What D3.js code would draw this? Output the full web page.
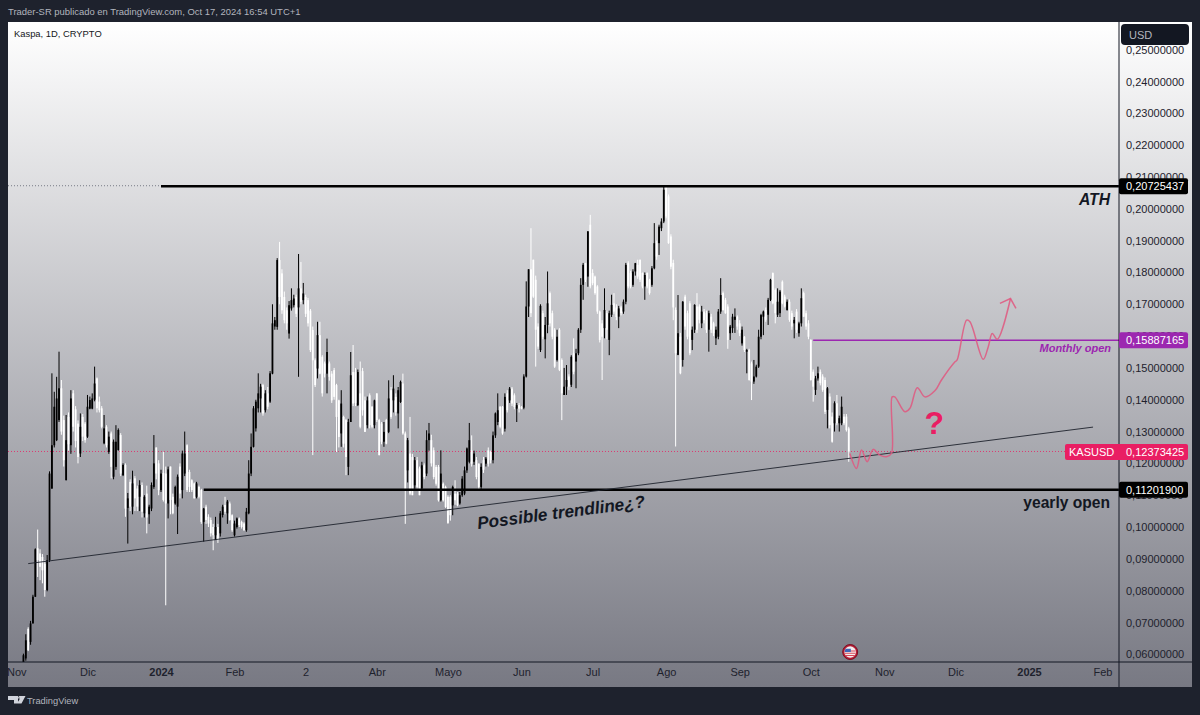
<!DOCTYPE html>
<html>
<head>
<meta charset="utf-8">
<script src="https://cdn.jsdelivr.net/npm/d3@7"></script>
<style>
html, body { margin: 0; padding: 0; background: #1e222d; overflow: hidden; }
svg { display: block; }
text { font-family: "Liberation Sans", Arial, sans-serif; }
</style>
</head>
<body>
<svg id="chart" width="1200" height="715"></svg>
<script>
// daily candles, [open, high, low, close], prices in US cents
const nov23 = [[5.73,6.02,5.7,5.97],[5.87,6.63,5.8,6.44],[6.8,6.85,6.1,6.13],[6.39,7.05,6.3,6.97],[6.97,7.87,6.97,7.81],[7.81,9.33,7.8,9.3],[9.33,9.92,8.43,8.96],[9.17,9.3,8.33,8.75],[9.06,9.15,8.23,8.64],[8.85,8.95,7.81,8.02],
  [8.02,9.12,7.98,8.96],[8.96,11.75,8.9,11.68],[11.21,14.83,11.2,12.57],[12.57,14.25,12.5,13.78],[12.73,14.72,12.7,14.04],[13.36,15.51,13.3,14.36],[14.36,14.62,12.9,13.0],[13.36,13.5,11.9,12.1],[11.47,13.52,11.47,12.73],[13.46,13.6,12.4,12.6],
  [12.57,14.3,12.3,14.04],[14.2,14.3,13.0,13.15],[13.7,13.8,12.5,12.7],[13.25,13.35,12.0,12.2],[12.31,13.57,12.2,13.15],[13.46,13.55,12.7,12.84],[13.25,13.3,12.65,12.73]];
const dec23 = [[12.84,14.15,12.8,13.78],[13.72,14.1,13.7,13.99],[13.72,14.2,13.7,14.04],[14.0,15.04,13.95,14.51],[14.67,14.7,13.6,13.73],[13.94,14.1,13.6,13.67],[13.73,13.8,13.1,13.15],[12.63,13.52,12.6,13.1],[13.15,13.2,12.5,12.57],[12.36,13.0,12.3,12.84],
  [12.94,13.0,11.53,11.89],[11.58,12.75,11.5,12.68],[11.89,13.2,11.8,12.68],[12.42,13.1,12.4,13.05],[12.89,12.95,11.6,11.68],[11.63,12.0,11.6,11.95],[11.95,12.0,10.32,10.58],[10.6,11.07,9.48,10.9],[11.42,11.5,10.5,10.64],[10.64,11.77,10.4,11.37],
  [11.53,11.6,10.5,10.9],[11.21,11.3,10.5,10.64],[10.95,11.47,10.5,11.32],[11.32,11.4,10.3,10.48],[10.43,11.0,10.3,10.95],[11.05,11.3,9.8,10.3],[10.4,10.7,10.1,10.64],[10.58,11.4,10.5,11.32],[11.26,12.89,11.2,12.0],[12.5,12.5,11.5,11.68],[12.0,12.1,11.0,11.16]];
const jan24 = [[11.16,11.8,11.1,11.68],[11.7,12.36,10.8,10.85],[11.68,11.9,7.54,10.74],[10.74,11.9,10.27,11.81],[11.9,11.9,10.4,10.85],[10.95,11.05,10.4,10.43],[10.74,11.3,10.7,11.26],[10.64,11.65,9.78,11.58],[11.9,12.0,10.9,11.05],[11.16,12.4,10.9,12.31],
  [11.68,13.0,11.6,12.31],[12.57,12.6,11.1,11.16],[11.73,11.8,11.1,11.26],[11.47,11.5,11.1,11.16],[11.37,11.4,10.9,10.9],[10.95,11.42,10.9,11.37],[11.26,11.3,10.9,10.95],[11.16,11.2,10.1,10.16],[10.16,10.6,9.54,10.58],[10.64,10.7,10.1,10.22],
  [10.32,10.4,10.0,10.11],[10.22,10.3,9.7,9.8],[10.0,10.1,9.27,9.74],[9.74,10.32,9.59,10.0],[10.0,10.1,9.5,9.59],[9.8,10.5,9.7,10.43],[10.38,10.7,10.3,10.64],[10.69,10.95,10.4,10.48],[10.43,10.85,10.1,10.8],[10.74,10.8,10.2,10.22],[10.37,10.4,9.85,9.9]];
const feb24 = [[9.74,10.2,9.7,10.11],[10.0,10.3,9.95,10.27],[10.27,10.3,10.0,10.06],[10.16,10.2,9.95,10.0],[10.11,10.15,9.88,9.9],[9.9,10.6,9.85,10.48],[10.43,12.1,10.4,11.68],[11.68,12.94,11.6,12.52],[12.52,13.8,12.5,13.73],[13.1,14.0,13.0,13.94],
  [13.73,14.83,13.6,14.2],[14.04,14.5,13.6,14.41],[14.46,14.5,13.5,13.57],[13.67,14.3,13.6,14.2],[14.2,14.4,13.7,13.78],[13.94,14.9,13.9,14.83],[14.82,17.0,14.8,16.4],[16.3,16.6,16.2,16.5],[16.29,18.45,16.2,18.39],[18.39,18.96,17.0,17.23],
  [17.97,18.1,16.7,16.81],[17.23,17.4,16.4,16.5],[16.81,16.9,16.2,16.4],[16.08,17.1,15.92,16.97],[16.87,17.5,16.8,17.13],[16.97,17.3,16.9,17.18],[17.23,17.3,16.6,16.7],[16.9,18.58,14.72,17.5],[17.5,18.33,17.0,17.08]];
const mar24 = [[17.13,17.67,17.0,17.34],[17.23,17.3,16.6,16.7],[17.13,17.2,16.3,16.4],[16.8,16.85,15.5,15.56],[16.19,16.3,12.26,15.24],[15.24,15.3,14.4,14.46],[14.98,16.45,14.67,16.03],[16.03,16.45,14.8,14.82],[15.35,15.4,14.1,14.2],[15.14,15.2,14.7,14.82],
  [14.82,15.92,14.2,15.5],[15.14,15.2,14.6,14.72],[14.82,14.9,13.9,13.98],[14.93,15.0,14.0,14.09],[14.46,14.5,12.36,13.46],[13.98,14.0,12.5,12.83],[12.94,14.3,12.52,13.88],[13.46,13.5,12.5,12.62],[13.36,13.4,11.63,12.2],[11.89,13.4,11.63,13.3],
  [13.3,15.5,13.3,14.77],[14.87,15.72,13.8,13.88],[14.87,15.0,13.8,13.9],[13.83,14.95,13.8,14.87],[14.2,15.2,13.1,13.15],[14.9,15.0,13.5,13.67],[13.98,14.1,12.99,12.99],[13.2,14.1,13.1,13.98],[14.14,14.2,13.1,13.2],[13.78,13.8,13.1,13.15],[13.2,14.0,13.1,13.98]];
const apr24 = [[14.2,14.2,13.3,13.36],[13.36,13.4,12.25,12.26],[13.25,13.3,12.6,12.68],[12.68,13.3,12.52,12.99],[13.36,13.4,12.6,12.62],[12.99,14.61,12.95,14.04],[14.3,14.4,13.4,13.46],[13.98,14.77,13.6,14.35],[14.09,14.2,13.5,13.62],[13.57,14.4,13.1,14.3],
  [13.93,14.6,13.9,14.56],[14.51,14.82,12.9,12.94],[12.94,13.0,10.1,11.15],[11.78,12.8,11.4,12.73],[12.31,13.46,11.0,11.05],[12.2,12.3,11.0,11.0],[11.31,12.2,11.2,12.1],[12.1,12.2,11.2,11.26],[11.84,11.9,11.0,11.0],[11.21,12.05,11.15,11.94],
  [11.94,12.0,11.5,11.57],[11.68,13.04,11.6,12.73],[12.73,13.27,12.4,12.94],[12.73,12.9,11.9,12.0],[12.41,12.5,11.5,11.57],[11.89,11.95,11.3,11.36],[11.89,11.95,10.8,10.84],[10.84,12.41,10.8,11.68],[11.36,11.4,10.8,10.84],[11.26,11.3,10.6,10.63]];
const may24 = [[10.95,11.0,10.1,10.13],[10.95,11.0,10.2,10.37],[10.68,11.3,10.37,11.26],[11.05,11.47,10.7,10.84],[11.05,11.1,10.65,10.68],[10.74,11.1,10.7,11.0],[11.0,11.6,10.95,11.52],[11.05,11.9,11.0,11.78],[11.78,12.5,11.7,12.47],[12.05,13.27,12.0,12.73],
  [12.41,12.88,11.9,11.99],[12.05,12.4,11.95,12.31],[12.1,12.2,11.5,11.57],[11.99,12.0,11.2,11.26],[11.26,12.0,11.2,11.89],[12.1,12.2,11.7,11.8],[11.99,12.2,11.9,12.15],[12.41,12.5,11.9,11.99],[12.36,12.4,12.0,12.1],[12.1,13.0,12.0,12.88],
  [12.88,13.6,12.8,13.57],[13.3,14.2,13.2,13.67],[13.78,13.8,13.1,13.15],[13.78,13.8,12.9,12.94],[13.09,14.2,13.0,14.09],[14.2,14.3,13.6,13.67],[13.98,14.4,13.9,14.35],[14.35,14.4,13.8,13.88],[14.14,14.2,13.7,13.77],[13.72,13.9,13.3,13.83],[13.83,13.9,13.6,13.72]];
const jun24 = [[13.78,13.8,13.7,13.72],[13.75,14.8,13.7,14.73],[14.73,17.72,14.7,16.93],[16.93,18.1,16.6,18.1],[18.1,19.39,16.6,16.72],[18.4,18.4,17.2,17.24],[17.77,17.9,15.04,16.2],[16.3,16.4,15.6,15.67],[15.56,17.0,15.5,16.95],[16.72,16.8,15.9,15.98],
  [15.9,16.6,15.3,16.35],[16.35,18.03,16.09,17.03],[17.35,17.4,16.3,16.4],[16.72,16.8,15.9,15.98],[16.2,16.25,15.0,15.04],[15.25,16.2,15.2,15.98],[16.2,16.25,14.9,14.94],[15.25,15.3,13.36,14.2],[14.15,15.0,14.15,14.41],[14.41,15.09,14.15,14.62],
  [14.73,14.8,14.3,14.41],[14.47,15.4,14.4,15.35],[15.46,15.93,14.8,14.88],[15.2,15.6,14.36,15.46],[15.46,16.25,15.4,16.2],[16.2,17.82,16.1,17.61],[17.61,18.3,17.14,18.24],[18.29,18.3,17.7,17.77],[17.87,19.3,17.55,19.29],[19.5,19.81,17.5,17.56]];
const jul24 = [[17.98,18.1,17.6,17.66],[17.87,17.9,17.3,17.35],[17.56,17.6,16.7,16.77],[16.77,16.8,15.8,15.88],[16.4,16.5,14.62,15.98],[16.25,17.5,15.93,16.82],[16.72,16.8,15.9,16.2],[15.88,16.8,15.4,16.72],[16.67,17.3,16.6,16.98],[17.03,17.35,16.7,16.77],
  [16.9,17.0,16.5,16.6],[16.61,16.95,16.25,16.87],[16.9,16.95,16.65,16.72],[16.77,17.15,16.7,17.08],[17.08,18.3,17.0,18.24],[18.29,18.35,17.5,17.56],[17.98,18.05,17.5,17.56],[17.61,18.1,17.55,18.03],[18.03,18.3,17.9,18.29],[18.24,18.4,17.8,17.87],
  [18.4,18.4,17.7,17.77],[17.98,18.0,17.5,17.56],[17.56,18.0,17.14,17.92],[17.98,18.0,17.5,17.56],[17.77,17.8,17.3,17.35],[17.61,18.2,17.55,18.13],[18.13,19.55,18.1,18.92],[18.92,19.0,18.4,18.5],[18.92,19.5,18.55,19.44],[19.39,19.7,19.3,19.6],[19.6,20.73,19.55,20.6]];
const aug24 = [[20.7,20.73,19.7,19.76],[20.39,20.45,18.9,18.92],[19.13,19.2,18.1,18.18],[18.3,18.4,16.5,16.9],[16.82,16.9,12.53,15.46],[15.41,17.29,15.4,16.09],[15.98,16.1,14.8,14.83],[15.25,17.1,15.04,17.08],[17.24,17.3,16.2,16.3],[16.72,16.8,15.9,15.98],
  [17.03,17.1,15.4,15.46],[15.88,16.3,15.56,16.2],[16.2,17.0,16.1,16.98],[16.93,17.35,16.1,16.2],[16.93,17.0,16.4,16.51],[16.4,16.95,16.25,16.77],[16.77,16.85,16.4,16.5],[16.72,16.8,16.1,16.2],[16.2,16.8,15.51,16.72],[16.61,16.7,16.1,16.2],
  [16.4,16.45,16.0,16.09],[15.93,16.3,15.72,16.2],[15.98,16.85,15.9,16.77],[16.77,17.82,16.7,17.29],[17.35,17.4,16.8,16.82],[17.14,17.2,16.7,16.72],[16.93,17.0,15.6,15.88],[16.09,16.35,15.88,16.3],[16.25,16.7,16.1,16.61],[16.51,16.87,16.1,16.61],[16.61,16.65,16.2,16.3]];
const sep24 = [[16.4,16.5,16.0,16.09],[15.77,16.3,15.7,16.2],[15.98,16.0,15.5,15.56],[15.51,15.6,14.83,15.56],[15.56,15.6,14.6,14.62],[15.14,15.2,13.99,14.57],[14.57,15.25,14.5,14.73],[14.73,15.1,14.7,15.04],[15.04,16.2,15.0,15.98],[15.98,16.7,15.9,16.66],
  [16.61,16.8,16.03,16.77],[16.82,16.9,16.45,16.51],[16.67,17.2,16.35,17.14],[17.14,17.8,17.1,17.77],[17.98,18.0,17.0,17.03],[17.45,17.5,16.4,16.72],[16.67,17.5,16.6,17.08],[16.72,17.45,16.6,17.4],[17.71,17.75,17.0,17.03],[17.24,17.3,16.9,16.93],
  [16.82,17.15,16.8,17.08],[17.08,17.15,16.45,16.51],[16.72,16.8,16.2,16.3],[16.4,16.6,15.93,16.51],[16.77,16.85,16.1,16.2],[16.09,16.45,15.98,16.4],[16.4,17.5,16.3,17.19],[17.35,17.4,16.6,16.61],[16.72,16.8,16.2,16.3],[16.4,16.5,15.9,15.98]];
const oct24 = [[15.88,15.9,14.6,14.62],[14.88,14.95,13.94,14.41],[14.31,14.75,14.15,14.67],[14.67,15.04,14.6,14.83],[14.88,14.95,14.45,14.52],[14.73,14.8,14.25,14.31],[14.62,14.7,13.55,13.62],[13.68,14.4,13.1,14.36],[14.1,14.2,13.1,13.2],[13.47,13.6,12.65,12.68],
  [13.26,13.95,13.0,13.89],[13.89,14.15,13.2,13.26],[13.26,13.5,13.0,13.42],[13.26,14.1,13.2,13.78],[13.47,13.55,13.2,13.26],[13.47,13.55,13.0,13.05],[13.1,13.15,12.05,12.37]];
const firstCandle = "2023-11-04";

const priceTicks = [0.06,0.07,0.08,0.09,0.10,0.11,0.12,0.13,0.14,0.15,0.16,0.17,0.18,0.19,0.20,0.21,0.22,0.23,0.24,0.25];
const timeTicks = ["2023-11-01","2023-12-01","2024-01-01","2024-02-01","2024-03-02","2024-04-01","2024-05-01","2024-06-01","2024-07-01","2024-08-01","2024-09-01","2024-10-01","2024-11-01","2024-12-01","2025-01-01","2025-02-01"];
const timeLabels = ["Nov","Dic","2024","Feb","2","Abr","Mayo","Jun","Jul","Ago","Sep","Oct","Nov","Dic","2025","Feb"];

const athPrice = 20.725437, monthlyOpen = 15.887165, yearlyOpen = 11.2019, lastPrice = 12.373425;
const athFrom = "2024-01-01", yearlyFrom = "2024-01-19", monthlyFrom = "2024-10-02";
const trendDates = ["2023-11-06", "2025-01-28"], trendPrices = [8.85, 13.14];

// pink scenario, days after the last candle and price in cents
const forecastDays = [0.46,3.27,5.38,7.77,10.3,13.1,15.9,18,18.3,19.4,23.7,25.8,28.9,32.1,36.3,39.1,44.8,45.7,49.7,51.1,56.7,58.8,60.5,62.6,68.2];
const forecastPrices = [12.31,11.84,12.42,12.05,12.44,12.26,12.21,12.31,14.09,14.09,13.62,13.73,14.38,14.09,14.28,14.62,15.19,15.25,16.5,16.45,15.27,15.66,16.08,15.9,17.18];
const arrowDays = [63.75,68.2,70.5], arrowPrices = [17.03,17.18,16.87];

const candles = [nov23, dec23, jan24, feb24, mar24, apr24, may24, jun24, jul24, aug24, sep24, oct24].flat();
const DAY = 864e5;
const parse = d3.utcParse("%Y-%m-%d");
const start = parse(firstCandle);
const dateOf = i => new Date(+start + i * DAY);
const lastDate = dateOf(candles.length - 1);

const plotLeft = 8, plotRight = 1119, plotTop = 22, plotBottom = 662, edge = 1192, foot = 687;
const x = d3.scaleUtc().domain([parse("2024-01-01"), parse("2025-01-01")]).range([161, 1029]);
const y = d3.scaleLinear().domain([6, 25]).range([654.3, 49.7]);

const svg = d3.select("#chart");
const defs = svg.append("defs");
const grad = defs.append("linearGradient").attr("id", "bg").attr("x1", 0).attr("y1", 0).attr("x2", 0).attr("y2", 1);
grad.append("stop").attr("offset", 0).attr("stop-color", "#ffffff");
grad.append("stop").attr("offset", 1).attr("stop-color", "#787983");
defs.append("clipPath").attr("id", "plot").append("rect")
  .attr("x", plotLeft).attr("y", plotTop).attr("width", plotRight - plotLeft).attr("height", plotBottom - plotTop);

svg.append("rect").attr("width", 1200).attr("height", 715).attr("fill", "#1e222d");
svg.append("rect").attr("x", plotLeft).attr("y", plotTop).attr("width", edge - plotLeft).attr("height", foot - plotTop).attr("fill", "url(#bg)");

svg.append("text").attr("x", 8).attr("y", 15).attr("font-size", 9.45).attr("fill", "#b2b5be")
  .text("Trader-SR publicado en TradingView.com, Oct 17, 2024 16:54 UTC+1");

const plot = svg.append("g").attr("clip-path", "url(#plot)");

// dotted price lines behind the candles
plot.append("line").attr("x1", plotLeft).attr("x2", plotRight).attr("y1", y(athPrice)).attr("y2", y(athPrice))
  .attr("stroke", "#787b86").attr("stroke-width", 1).attr("stroke-dasharray", "1 2");
plot.append("line").attr("x1", plotLeft).attr("x2", plotRight).attr("y1", y(lastPrice)).attr("y2", y(lastPrice))
  .attr("stroke", "#e91e63").attr("stroke-opacity", 0.8).attr("stroke-width", 1).attr("stroke-dasharray", "1 2");

// candles
const bars = plot.append("g").selectAll("g").data(candles).enter().append("g")
  .attr("transform", (d, i) => "translate(" + x(dateOf(i)) + ",0)");
bars.append("line").attr("y1", d => y(d[1])).attr("y2", d => y(d[2]))
  .attr("stroke", d => d[3] >= d[0] ? "#000" : "#fff").attr("stroke-width", 1);
bars.append("rect").attr("x", -0.9).attr("width", 1.8)
  .attr("y", d => y(Math.max(d[0], d[3])))
  .attr("height", d => Math.max(0.8, Math.abs(y(d[0]) - y(d[3]))))
  .attr("fill", d => d[3] >= d[0] ? "#000" : "#fff");

// horizontal levels
plot.append("line").attr("x1", x(parse(athFrom))).attr("x2", plotRight).attr("y1", y(athPrice) + 0.6).attr("y2", y(athPrice) + 0.6)
  .attr("stroke", "#000").attr("stroke-width", 2.4);
plot.append("line").attr("x1", x(parse(yearlyFrom))).attr("x2", plotRight).attr("y1", y(yearlyOpen) + 1).attr("y2", y(yearlyOpen) + 1)
  .attr("stroke", "#000").attr("stroke-width", 2.4);
plot.append("line").attr("x1", x(parse(monthlyFrom))).attr("x2", plotRight).attr("y1", y(monthlyOpen) + 0.6).attr("y2", y(monthlyOpen) + 0.6)
  .attr("stroke", "#9c27b0").attr("stroke-width", 1.4);

// trendline
plot.append("line")
  .attr("x1", x(parse(trendDates[0]))).attr("y1", y(trendPrices[0]))
  .attr("x2", x(parse(trendDates[1]))).attr("y2", y(trendPrices[1]))
  .attr("stroke", "#1e222d").attr("stroke-width", 0.9);

// forecast path
const afterLast = d => new Date(+lastDate + d * DAY);
const forecast = d3.line().x(d => x(afterLast(d[0]))).y(d => y(d[1])).curve(d3.curveCatmullRom.alpha(0.5));
plot.append("path").attr("d", forecast(d3.zip(forecastDays, forecastPrices)))
  .attr("fill", "none").attr("stroke", "#e0577f").attr("stroke-width", 1.5).attr("stroke-opacity", 0.85);
plot.append("path").attr("d", d3.line().x(d => x(afterLast(d[0]))).y(d => y(d[1]))(d3.zip(arrowDays, arrowPrices)))
  .attr("fill", "none").attr("stroke", "#e0577f").attr("stroke-width", 1.5).attr("stroke-opacity", 0.85);

// notes on the chart
const note = (px, py, str, size, opts) => plot.append("text").attr("x", px).attr("y", py).attr("text-anchor", "end")
  .attr("font-size", size).attr("font-weight", "bold").attr("font-style", opts.italic ? "italic" : "normal")
  .attr("fill", opts.fill).text(str);
note(1110, 205, "ATH", 15.7, { italic: true, fill: "#131722" });
note(1111, 352, "Monthly open", 11, { italic: true, fill: "#9c27b0" });
note(1110, 508, "yearly open", 15.6, { fill: "#131722" });
note(944, 434, "?", 32, { fill: "#e91e63" });
plot.append("text").attr("transform", "translate(478,529) rotate(-7.4)")
  .attr("font-size", 17.2).attr("font-weight", "bold").attr("font-style", "italic").attr("fill", "#131722")
  .text("Possible trendline¿?");

svg.append("text").attr("x", 14).attr("y", 36.5).attr("font-size", 9.4).attr("fill", "#131722").text("Kaspa, 1D, CRYPTO");

// event marker with the flag
const flag = svg.append("g").attr("transform", "translate(" + x(afterLast(0.6)) + ",652)");
flag.append("circle").attr("r", 7.5).attr("fill", "#b71c35").attr("stroke", "#7a0f22").attr("stroke-width", 1);
flag.append("circle").attr("r", 5.8).attr("fill", "#f3eded");
flag.append("path").attr("d", "M-5.3,-1.5H5.4V-0.6H-5.4ZM-5.4,0.8H5.4V1.7H-5.4ZM-4.6,3H4.6V3.9H-4.6Z").attr("fill", "#d9485a");
flag.append("path").attr("d", "M-4.7,-3.2H0.6V0H-5.6Z").attr("fill", "#3f64b5");

// axes
svg.append("line").attr("x1", plotRight).attr("x2", plotRight).attr("y1", plotTop).attr("y2", foot).attr("stroke", "#131722");
svg.append("line").attr("x1", plotLeft).attr("x2", edge).attr("y1", plotBottom).attr("y2", plotBottom).attr("stroke", "#131722");

const priceFmt = v => v.toFixed(8).replace(".", ",");
const yAxis = d3.axisRight(y).tickValues(priceTicks.map(v => v * 100)).tickSize(0).tickPadding(7)
  .tickFormat(v => priceFmt(v / 100));
const gy = svg.append("g").attr("transform", "translate(" + plotRight + ",0)").call(yAxis);
gy.select(".domain").remove();
gy.selectAll("text").attr("font-size", 11).attr("font-family", "Liberation Sans").attr("fill", "#1e222d");

const xAxis = d3.axisBottom(x).tickValues(timeTicks.map(parse)).tickSize(0).tickPadding(6)
  .tickFormat((d, i) => timeLabels[i]);
const gx = svg.append("g").attr("transform", "translate(0," + plotBottom + ")").call(xAxis);
gx.select(".domain").remove();
gx.selectAll("text").attr("font-size", 11).attr("font-family", "Liberation Sans").attr("fill", "#1e222d")
  .attr("font-weight", (d, i) => /^20/.test(timeLabels[i]) ? "bold" : "normal");

// price tags on the axis
const tag = (price, fill, text, boxLeft) => {
  const py = y(price) + (price === yearlyOpen ? 1 : 0.6);
  svg.append("rect").attr("x", boxLeft).attr("y", py - 8).attr("width", 1188 - boxLeft).attr("height", 16).attr("rx", 2).attr("fill", fill);
  svg.append("text").attr("x", plotRight + 7).attr("y", py + 4).attr("font-size", 11).attr("fill", "#fff").text(text);
};
tag(athPrice, "#000", priceFmt(athPrice / 100), plotRight);
tag(monthlyOpen, "#9c27b0", priceFmt(monthlyOpen / 100), plotRight);
tag(yearlyOpen, "#000", priceFmt(yearlyOpen / 100), plotRight);
tag(lastPrice, "#e91e63", priceFmt(lastPrice / 100), 1065);
svg.append("text").attr("x", 1069).attr("y", y(lastPrice) + 4.6).attr("font-size", 11).attr("fill", "#fff").text("KASUSD");

// currency button
svg.append("rect").attr("x", 1121).attr("y", 24).attr("width", 68).attr("height", 21).attr("rx", 4).attr("fill", "#131722");
svg.append("text").attr("x", 1129).attr("y", 39).attr("font-size", 11).attr("fill", "#b2b5be").text("USD");

// footer logo
svg.append("path").attr("d", "M8,696H18V703.5H14V700H8ZM19,696H25.5L21.5,703.5H16.8L19.5,699.5Z").attr("fill", "#d1d4dc");
svg.append("circle").attr("cx", 17.2).attr("cy", 697.5).attr("r", 1.6).attr("fill", "#d1d4dc");
svg.append("text").attr("x", 27).attr("y", 704).attr("font-size", 9.3).attr("fill", "#b2b5be").text("TradingView");
</script>
</body>
</html>
